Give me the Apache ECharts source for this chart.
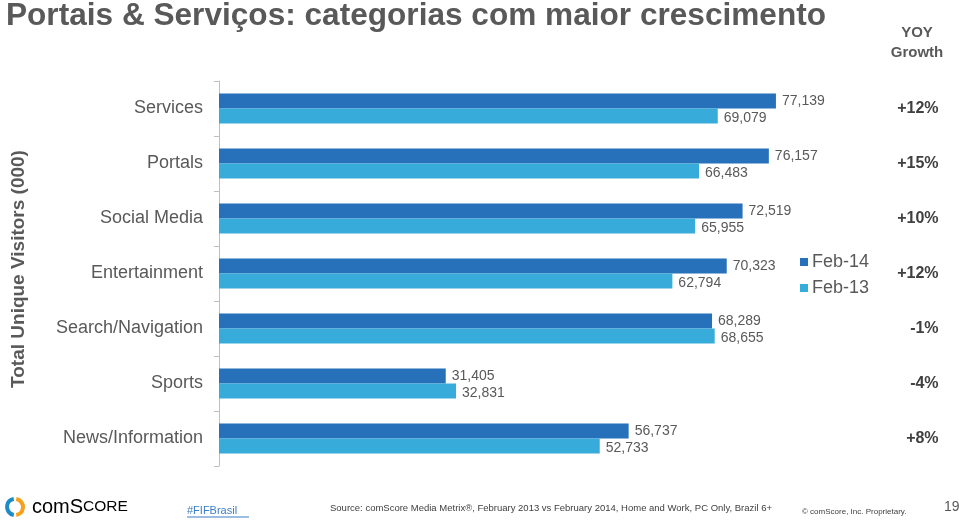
<!DOCTYPE html>
<html>
<head>
<meta charset="utf-8">
<script src="https://cdn.jsdelivr.net/npm/echarts@6/dist/echarts.min.js"></script>
<style>
html,body{margin:0;padding:0;background:#fff;}
#chart{width:959px;height:520px;}
</style>
</head>
<body>
<div id="chart"></div>
<script>
var categories = ['Services','Portals','Social Media','Entertainment','Search/Navigation','Sports','News/Information'];
var feb14 = [77139, 76157, 72519, 70323, 68289, 31405, 56737];
var feb13 = [69079, 66483, 65955, 62794, 68655, 32831, 52733];
var growth = ['+12%','+15%','+10%','+12%','-1%','-4%','+8%'];

var grey = '#595959';
var chart = echarts.init(document.getElementById('chart'));
chart.setOption({
    animation: false,
    textStyle: { fontFamily: 'Liberation Sans, Arial, sans-serif' },
    grid: { left: 219, top: 81, height: 385, right: 162.4 },
    legend: {
        orient: 'vertical',
        left: 795,
        top: 248,
        icon: 'rect',
        itemWidth: 8,
        itemHeight: 8,
        itemGap: 8,
        textStyle: { fontSize: 18, color: grey, padding: [0, 0, 0, -1] },
        data: ['Feb-14', 'Feb-13']
    },
    xAxis: { type: 'value', min: 0, max: 80000, show: false, splitLine: { show: false } },
    yAxis: [
        {
            type: 'category',
            data: categories,
            inverse: true,
            axisLine: { lineStyle: { color: '#bfbfbf', width: 1 } },
            axisTick: { show: true, length: 5, lineStyle: { color: '#bfbfbf' } },
            axisLabel: { fontSize: 18, color: grey, margin: 16 }
        },
        {
            type: 'category',
            data: growth,
            inverse: true,
            position: 'right',
            axisLine: { show: false },
            axisTick: { show: false },
            axisLabel: { fontSize: 16, fontWeight: 'bold', color: '#404040', margin: 142, align: 'right' }
        }
    ],
    series: [
        {
            name: 'Feb-14',
            type: 'bar',
            data: feb14,
            barWidth: 15,
            barGap: '0%',
            itemStyle: { color: '#2671b9' },
            label: { show: true, position: 'right', distance: 6, fontSize: 14, color: grey,
                formatter: function (p) { return p.value.toLocaleString('en-US'); } }
        },
        {
            name: 'Feb-13',
            type: 'bar',
            data: feb13,
            barWidth: 15,
            itemStyle: { color: '#37abda' },
            label: { show: true, position: 'right', distance: 6, fontSize: 14, color: grey, offset: [0, 2],
                formatter: function (p) { return p.value.toLocaleString('en-US'); } }
        }
    ],
    graphic: [
        { type: 'text', left: 6, top: 0, style: { text: 'Portais & Serviços: categorias com maior crescimento',
            font: 'bold 31.6px "Liberation Sans", Arial, sans-serif', fill: grey } },
        { type: 'text', x: 917, y: 23, style: { text: 'YOY\nGrowth', align: 'center', lineHeight: 20,
            font: 'bold 15px "Liberation Sans", Arial, sans-serif', fill: grey } },
        { type: 'text', x: 19, y: 269, rotation: Math.PI / 2, style: { text: 'Total Unique Visitors (000)',
            align: 'center', verticalAlign: 'middle', font: 'bold 19px "Liberation Sans", Arial, sans-serif', fill: grey } },
        // comScore logo
        { type: 'arc', shape: { cx: 15, cy: 507, r: 8, startAngle: Math.PI * 0.55, endAngle: Math.PI * 1.45 },
            style: { stroke: '#1c8cc8', lineWidth: 4, fill: null } },
        { type: 'arc', shape: { cx: 15, cy: 507, r: 8, startAngle: -Math.PI * 0.45, endAngle: Math.PI * 0.45 },
            style: { stroke: '#f5a11c', lineWidth: 4, fill: null } },
        { type: 'text', x: 32, y: 507, style: { text: '{a|com}{b|S}{c|CORE}', verticalAlign: 'middle',
            rich: { a: { fontSize: 20, color: '#6d6e71', fontFamily: 'Liberation Sans' },
                    b: { fontSize: 20, color: '#6d6e71', fontFamily: 'Liberation Sans' },
                    c: { fontSize: 15.5, color: '#6d6e71', fontFamily: 'Liberation Sans' } } } },
        { type: 'text', x: 187, y: 505, style: { text: '#FIFBrasil', font: '11px "Liberation Sans", Arial, sans-serif', fill: '#3b7dc6' } },
        { type: 'line', shape: { x1: 187, y1: 517, x2: 249, y2: 517 }, style: { stroke: '#3b7dc6', lineWidth: 1 } },
        { type: 'text', x: 330, y: 503, style: { text: 'Source: comScore Media Metrix®, February 2013 vs February 2014, Home and Work, PC Only, Brazil 6+',
            font: '9.5px "Liberation Sans", Arial, sans-serif', fill: '#404040' } },
        { type: 'text', x: 802, y: 508, style: { text: '© comScore, Inc. Proprietary.', font: '8px "Liberation Sans", Arial, sans-serif', fill: '#404040' } },
        { type: 'text', x: 944, y: 500, style: { text: '19', font: '14px "Liberation Sans", Arial, sans-serif', fill: grey } }
    ]
});
</script>
</body>
</html>
